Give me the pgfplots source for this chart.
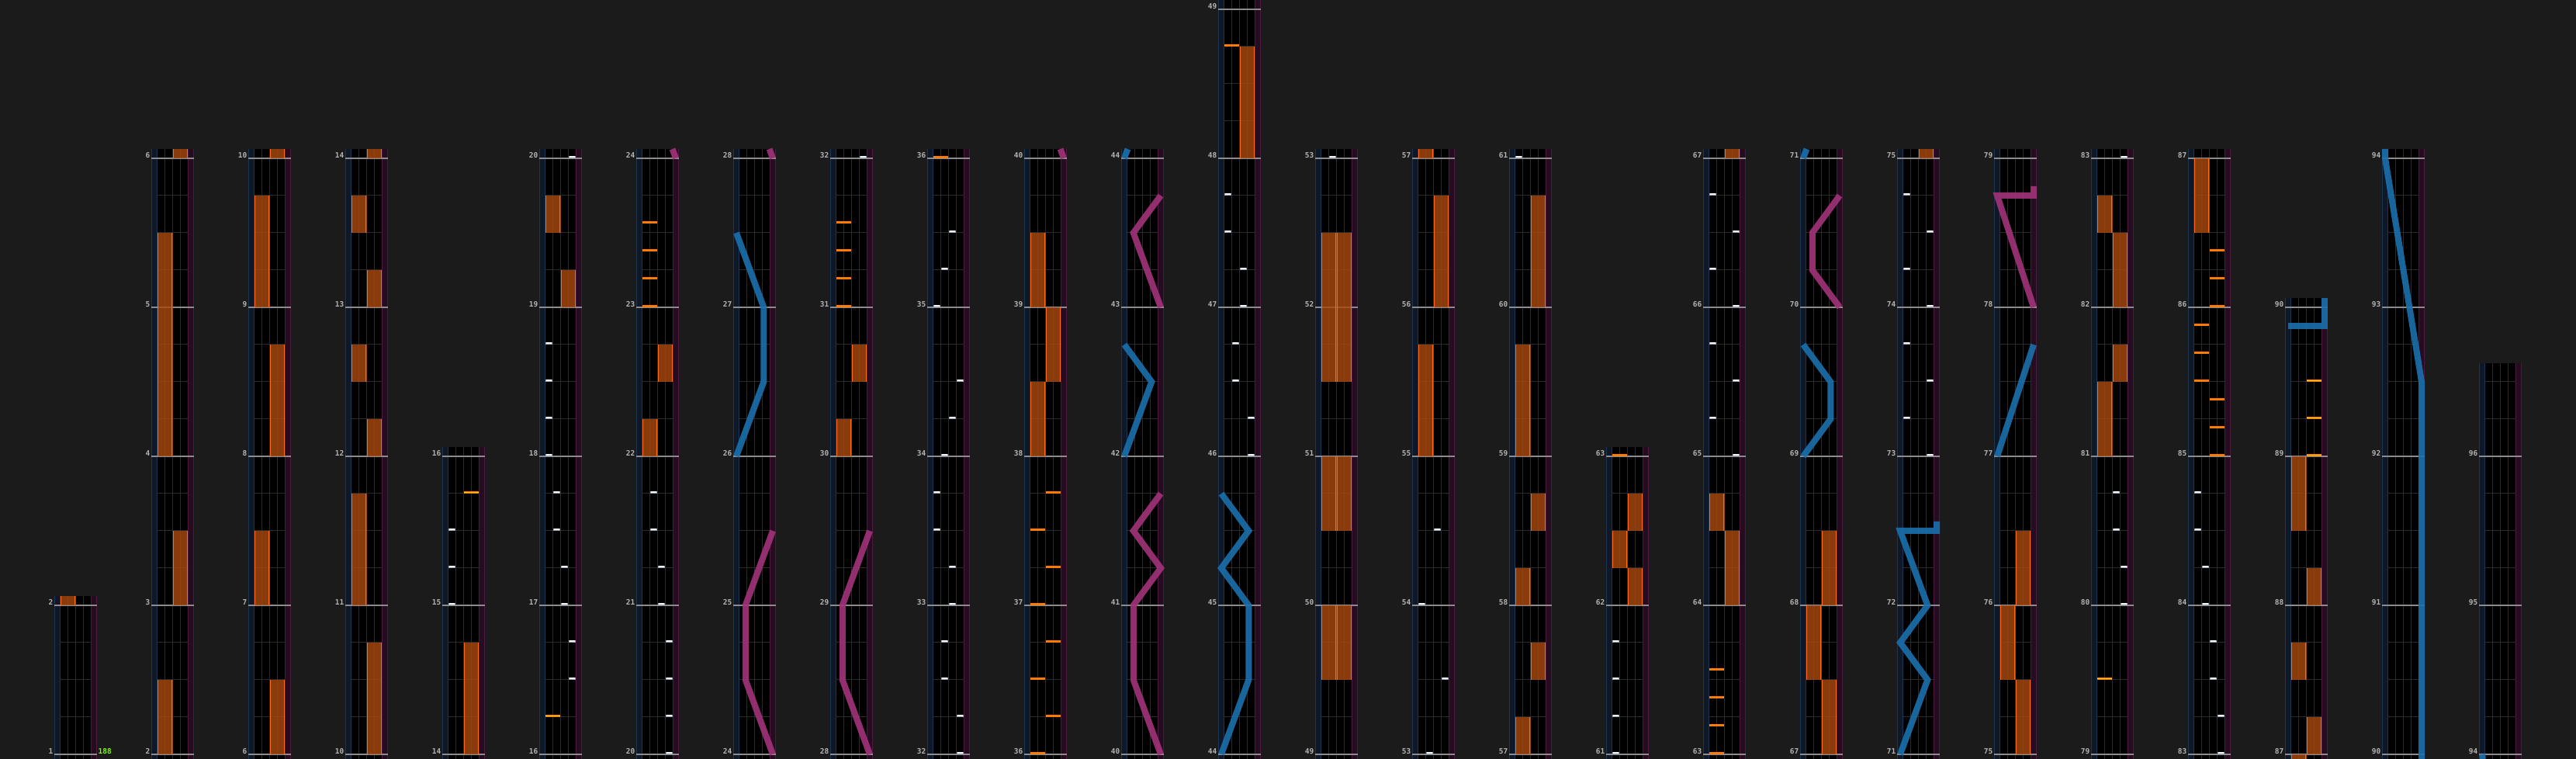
\documentclass[border=0pt]{standalone}
\usepackage{pgfplots}
\usepackage{pgfplotstable}
\pgfplotsset{compat=1.18}
\usepackage{fontspec}
\setmonofont{DejaVu Sans Mono}

\definecolor{bg}{HTML}{1B1B1B}
\definecolor{btbg}{HTML}{000000}
\definecolor{stripL}{HTML}{0E1828}
\definecolor{stripLe}{HTML}{1E3552}
\definecolor{stripR}{HTML}{260C20}
\definecolor{stripRe}{HTML}{4C1A3E}
\definecolor{laneln}{HTML}{2A2A2A}
\definecolor{measln}{HTML}{8C8C8C}
\definecolor{lblc}{HTML}{B4B4B4}
\definecolor{fxfill}{HTML}{A8480F}
\definecolor{fxedge}{HTML}{FF6A10}
\definecolor{fxchip}{HTML}{FF7A00}
\definecolor{fxchipY}{HTML}{FFC21A}
\definecolor{btchip}{HTML}{F2F6FA}
\definecolor{btedge}{HTML}{9AA6B4}
\definecolor{laserB}{HTML}{1B70AE}
\definecolor{laserP}{HTML}{A3337A}
\definecolor{bpm}{HTML}{7CFC00}

% FX holds: column, side (0=L,1=R), start beat, end beat (beats from column bottom)
\pgfplotstableread{
c s b0 b1
0 0 4 4.25
1 0 0 2
1 1 4 6
1 0 8 14
1 1 16 16.25
2 1 0 2
2 0 4 6
2 1 8 11
2 0 12 15
2 1 16 16.25
3 1 0 3
3 0 4 7
3 1 8 9
3 0 10 11
3 1 12 13
3 0 14 15
3 1 16 16.25
4 1 0 3
5 1 12 13
5 0 14 15
6 0 8 9
6 1 10 11
8 0 8 9
8 1 10 11
10 0 8 10
10 1 10 12
10 0 12 14
12 1 16 19
13 0 2 4
13 1 2 4
13 0 6 8
13 1 6 8
13 0 10 14
13 1 10 14
14 0 8 11
14 1 12 15
14 0 16 16.25
15 0 0 1
15 1 2 3
15 0 4 5
15 1 6 7
15 0 8 11
15 1 12 15
16 1 4 5
16 0 5 6
16 1 6 7
17 1 4 6
17 0 6 7
17 1 16 16.25
18 1 0 2
18 0 2 4
18 1 4 6
19 1 16 16.25
20 1 0 2
20 0 2 4
20 1 4 6
21 0 8 10
21 1 10 11
21 1 12 14
21 0 14 15
22 0 14 16
23 0 -0.125 0
23 1 0 1
23 0 2 3
23 1 4 5
23 0 6 8
}\holds

% BT chips: column, lane (1-4), beat
\pgfplotstableread{
c l b
4 1 4
4 1 5
4 1 6
5 4 2
5 4 3
5 3 4
5 3 5
5 2 6
5 2 7
5 1 8
5 1 9
5 1 10
5 1 11
5 4 16
6 4 0
6 4 1
6 4 2
6 4 3
6 3 4
6 3 5
6 2 6
6 2 7
8 4 16
9 4 0
9 4 1
9 2 2
9 2 3
9 3 4
9 3 5
9 1 6
9 1 7
9 2 8
9 3 9
9 4 10
9 1 12
9 2 13
9 3 14
12 4 8
12 4 9
12 2 10
12 2 11
12 3 12
12 3 13
12 1 14
12 1 15
13 2 16
14 2 0
14 4 2
14 1 4
14 3 6
15 1 16
16 1 0
16 1 1
16 1 2
16 1 3
17 4 8
17 1 9
17 4 10
17 1 11
17 4 12
17 1 13
17 4 14
17 1 15
19 4 8
19 1 9
19 4 10
19 1 11
19 4 12
19 1 13
19 4 14
19 1 15
21 4 4
21 4 5
21 3 6
21 3 7
21 4 16
22 4 0
22 4 1
22 3 2
22 3 3
22 2 4
22 2 5
22 1 6
22 1 7
}\btchips

% FX chips: column, side, beat
\pgfplotstableread{
c s b
6 0 12
6 0 12.75
6 0 13.5
6 0 14.25
8 0 12
8 0 12.75
8 0 13.5
8 0 14.25
9 0 16
10 0 0
10 1 1
10 0 2
10 1 3
10 0 4
10 1 5
10 0 6
10 1 7
12 0 19
16 0 8
17 0 0
17 0 0.75
17 0 1.5
17 0 2.25
22 1 8
22 1 8.75
22 1 9.5
22 0 10
22 0 10.75
22 0 11.5
22 1 12
22 1 12.75
22 1 13.5
}\fxchips

\pgfplotstableread{
c s b
4 1 7
5 0 1
21 0 2
23 1 8
23 1 9
23 1 10
}\fxchipsY

\tikzset{lbl/.style={anchor=base east, inner sep=0pt, text=lblc, font=\fontsize{9.5}{10}\selectfont\ttfamily\bfseries}}

\def\TBarr{{4.25,16.25,16.25,16.25,8.25,16.25,16.25,16.25,16.25,16.25,16.25,16.25,20.25,16.25,16.25,16.25,8.25,16.25,16.25,16.25,16.25,16.25,16.25,12.25,16.25,10.5}}
\def\MBarr{{1,2,6,10,14,16,20,24,28,32,36,40,44,49,53,57,61,63,67,71,75,79,83,87,90,94}}

\begin{document}
\begin{tikzpicture}
\begin{axis}[x=1bp, y=1bp, xmin=0, xmax=3320, ymin=0, ymax=978, hide axis,
  laserBst/.style={draw=laserB, line width=8bp, opacity=0.9, line join=miter, miter limit=2},
  laserPst/.style={draw=laserP, line width=8bp, opacity=0.9, line join=miter, miter limit=2},
]
\addplot[draw=none, fill=bg] coordinates {(0,0) (3320,0) (3320,978) (0,978)};
\gdef\labs{}
\pgfplotsforeachungrouped \c in {0,...,25}{%
  \pgfmathsetmacro\xo{70+125*\c}%
  \pgfmathsetmacro\tb{\TBarr[\c]}%
  \pgfmathtruncatemacro\mb{\MBarr[\c]}%
  \pgfmathsetmacro\yt{6+48*\tb}%
  \pgfmathsetmacro\xa{\xo+7.7}%
  \pgfmathsetmacro\xd{\xo+47.3}%
  \pgfmathsetmacro\xz{\xo+55}%
  \pgfmathsetmacro\xe{\xo+17.6}%
  \pgfmathsetmacro\xf{\xo+27.5}%
  \pgfmathsetmacro\xg{\xo+37.4}%
  \pgfmathsetmacro\ea{\xo+0.5}%
  \pgfmathsetmacro\eb{\xo+7.2}%
  \pgfmathsetmacro\ec{\xo+47.8}%
  \pgfmathsetmacro\ed{\xo+54.5}%
  \xdef\beatc{}\xdef\measc{}%
  \pgfmathtruncatemacro\nb{floor(\tb)}%
  \foreach \j in {0,...,\nb}{%
    \pgfmathsetmacro\yy{6+48*\j}%
    \pgfmathtruncatemacro\md{mod(\j,4)}%
    \ifnum\md=0
      \pgfmathtruncatemacro\lab{\mb+\j/4}%
      \pgfmathsetmacro\xl{\xo-1.5}%
      \pgfmathsetmacro\yl{\yy+0.8}%
      \xdef\measc{\measc (\xo,\yy)}%
      \xdef\labs{\unexpanded\expandafter{\labs}\noexpand\node[lbl] at (axis cs:\xl,\yl) {\lab};}%
    \else
      \xdef\beatc{\beatc (\xa,\yy)}%
    \fi
  }%
  \edef\temp{\noexpand\addplot[draw=none,fill=btbg] coordinates {(\xa,0) (\xd,0) (\xd,\yt) (\xa,\yt)};}\temp
  \edef\temp{\noexpand\addplot[draw=none,fill=stripL] coordinates {(\xo,0) (\xa,0) (\xa,\yt) (\xo,\yt)};}\temp
  \edef\temp{\noexpand\addplot[draw=none,fill=stripR] coordinates {(\xd,0) (\xz,0) (\xz,\yt) (\xd,\yt)};}\temp
  \edef\temp{\noexpand\addplot[draw=stripLe,line width=1bp,quiver={u=0,v=\yt}] coordinates {(\ea,0) (\eb,0)};}\temp
  \edef\temp{\noexpand\addplot[draw=stripRe,line width=1bp,quiver={u=0,v=\yt}] coordinates {(\ec,0) (\ed,0)};}\temp
  \edef\temp{\noexpand\addplot[draw=laneln,line width=1bp,quiver={u=0,v=\yt}] coordinates {(\xe,0) (\xf,0) (\xg,0)};}\temp
  \edef\temp{\noexpand\addplot[draw=laneln,line width=1bp,quiver={u=39.6,v=0}] coordinates {\beatc};}\temp
  \edef\temp{\noexpand\addplot[draw=measln,line width=1.3bp,quiver={u=55,v=0}] coordinates {\measc};}\temp
}

% FX holds
\addplot[draw=fxfill, opacity=0.82, line width=19.8bp, quiver={u=0, v=48*(\thisrow{b1}-\thisrow{b0})}]
  table[x expr=87.6+125*\thisrow{c}+19.8*\thisrow{s}, y expr=6+48*\thisrow{b0}] {\holds};
\addplot[draw=fxedge, line width=1.2bp, quiver={u=0, v=48*(\thisrow{b1}-\thisrow{b0})}]
  table[x expr=78.4+125*\thisrow{c}+19.8*\thisrow{s}, y expr=6+48*\thisrow{b0}] {\holds};
\addplot[draw=fxedge, line width=1.2bp, quiver={u=0, v=48*(\thisrow{b1}-\thisrow{b0})}]
  table[x expr=96.8+125*\thisrow{c}+19.8*\thisrow{s}, y expr=6+48*\thisrow{b0}] {\holds};

% chips
\addplot[draw=btedge, line width=3.2bp, quiver={u=8.7,v=0}]
  table[x expr=68.2+125*\thisrow{c}+9.9*\thisrow{l}, y expr=7.6+48*\thisrow{b}] {\btchips};
\addplot[draw=btchip, line width=1.8bp, quiver={u=7.3,v=0}]
  table[x expr=68.9+125*\thisrow{c}+9.9*\thisrow{l}, y expr=7.6+48*\thisrow{b}] {\btchips};
\addplot[draw=fxchip, line width=3bp, quiver={u=19.2,v=0}]
  table[x expr=78+125*\thisrow{c}+19.8*\thisrow{s}, y expr=7.5+48*\thisrow{b}] {\fxchips};
\addplot[draw=fxchip, line width=3bp, quiver={u=19.2,v=0}]
  table[x expr=78+125*\thisrow{c}+19.8*\thisrow{s}, y expr=7.5+48*\thisrow{b}] {\fxchipsY};
\addplot[draw=fxchipY, line width=1.2bp, quiver={u=19.2,v=0}]
  table[x expr=78+125*\thisrow{c}+19.8*\thisrow{s}, y expr=7.5+48*\thisrow{b}] {\fxchipsY};

% lasers (p = 0 left ... 1 right, b = beats from column bottom)
\addplot[laserPst] table[x expr=824+47*\thisrow{p}, y expr=6+48*\thisrow{b}] {
p b
1 16
0.906 16.25
};
\addplot[laserPst] table[x expr=949+47*\thisrow{p}, y expr=6+48*\thisrow{b}] {
p b
1 0
0.25 2
0.25 4
1 6
};
\addplot[laserBst] table[x expr=949+47*\thisrow{p}, y expr=6+48*\thisrow{b}] {
p b
0 8
0.75 10
0.75 12
0 14
};
\addplot[laserPst] table[x expr=949+47*\thisrow{p}, y expr=6+48*\thisrow{b}] {
p b
1 16
0.906 16.25
};
\addplot[laserPst] table[x expr=1074+47*\thisrow{p}, y expr=6+48*\thisrow{b}] {
p b
1 0
0.25 2
0.25 4
1 6
};
\addplot[laserPst] table[x expr=1324+47*\thisrow{p}, y expr=6+48*\thisrow{b}] {
p b
1 16
0.906 16.25
};
\addplot[laserPst] table[x expr=1449+47*\thisrow{p}, y expr=6+48*\thisrow{b}] {
p b
1 0
0.25 2
0.25 4
1 5
0.25 6
1 7
};
\addplot[laserBst] table[x expr=1449+47*\thisrow{p}, y expr=6+48*\thisrow{b}] {
p b
0 8
0.75 10
0 11
};
\addplot[laserPst] table[x expr=1449+47*\thisrow{p}, y expr=6+48*\thisrow{b}] {
p b
1 12
0.25 14
1 15
};
\addplot[laserBst] table[x expr=1449+47*\thisrow{p}, y expr=6+48*\thisrow{b}] {
p b
0 16
0.094 16.25
};
\addplot[laserBst] table[x expr=1574+47*\thisrow{p}, y expr=6+48*\thisrow{b}] {
p b
0 0
0.75 2
0.75 4
0 5
0.75 6
0 7
};
\addplot[laserBst] table[x expr=2324+47*\thisrow{p}, y expr=6+48*\thisrow{b}] {
p b
0 8
0.75 9
0.75 10
0 11
};
\addplot[laserPst] table[x expr=2324+47*\thisrow{p}, y expr=6+48*\thisrow{b}] {
p b
1 12
0.25 13
0.25 14
1 15
};
\addplot[laserBst] table[x expr=2324+47*\thisrow{p}, y expr=6+48*\thisrow{b}] {
p b
0 16
0.094 16.25
};
\addplot[laserBst] table[x expr=2449+47*\thisrow{p}, y expr=6+48*\thisrow{b}] {
p b
0 0
0.75 2
0 3
0.75 4
0 6
1 6
1 6.25
};
\addplot[laserBst] table[x expr=2574+47*\thisrow{p}, y expr=6+48*\thisrow{b}] {
p b
0 8
1 11
};
\addplot[laserPst] table[x expr=2574+47*\thisrow{p}, y expr=6+48*\thisrow{b}] {
p b
1 12
0 15
1 15
1 15.25
};
\addplot[laserBst] table[x expr=2949+47*\thisrow{p}, y expr=6+48*\thisrow{b}] {
p b
0 11.5
1 11.5
1 12.25
};
\addplot[laserBst] table[x expr=3074+47*\thisrow{p}, y expr=6+48*\thisrow{b}] {
p b
1 -0.125
1 10
0 16
0 16.25
};
\addplot[laserBst] table[x expr=3199+47*\thisrow{p}, y expr=6+48*\thisrow{b}] {
p b
0.02 -0.125
0 0
};

\labs
\node[anchor=base west, inner sep=0pt, text=bpm, font=\fontsize{9.5}{10}\selectfont\ttfamily\bfseries] at (axis cs:126.5,6.6) {188};
\end{axis}
\end{tikzpicture}
\end{document}
